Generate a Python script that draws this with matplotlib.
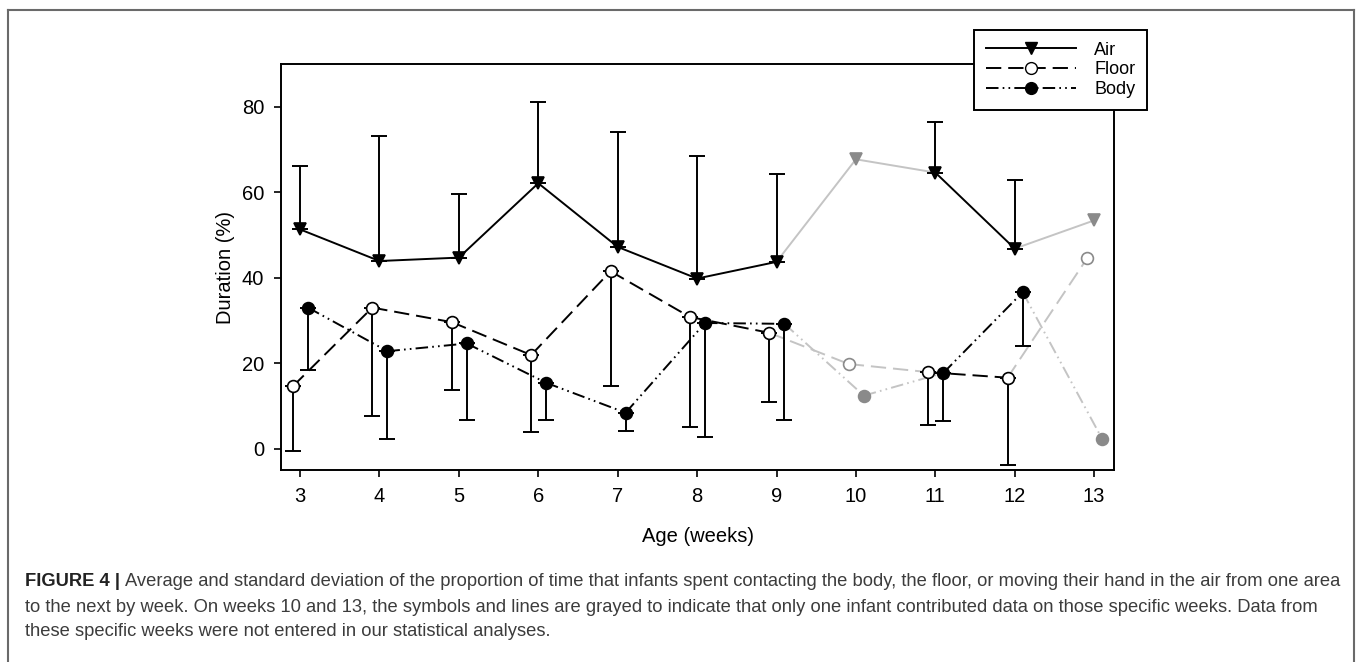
import matplotlib
matplotlib.use("Agg")
import matplotlib.pyplot as plt
from matplotlib.lines import Line2D

plt.rcParams['font.family'] = ['Liberation Sans', 'DejaVu Sans']
plt.rcParams['lines.scale_dashes'] = False

# data
weeks = [3, 4, 5, 6, 7, 8, 9, 10, 11, 12, 13]
gray_weeks = [10, 13]   # only one infant -> grayed out

air = [51.3, 43.9, 44.7, 62.1, 47.2, 39.8, 43.7, 67.7, 64.6, 46.8, 53.4]
air_upper = [66.1, 73.1, 59.6, 81.0, 74.2, 68.5, 64.3, None, 76.5, 62.8, None]

floor = [14.6, 33.0, 29.6, 21.9, 41.5, 30.8, 27.1, 19.8, 17.9, 16.6, 44.5]
floor_lower = [-0.6, 7.7, 13.8, 3.8, 14.6, 5.0, 10.9, None, 5.6, -3.9, None]

body = [33.0, 22.8, 24.6, 15.4, 8.4, 29.4, 29.2, 12.4, 17.7, 36.6, 2.3]
body_lower = [18.5, 2.3, 6.8, 6.6, 4.1, 2.7, 6.8, None, 6.4, 24.0, None]

W, H = 1358, 662
fig = plt.figure(figsize=(W / 100, H / 100), dpi=100)
ax = fig.add_axes([281 / W, 1 - 470 / H, (1114 - 281) / W, (470 - 64) / H])

LINE_GRAY = "#c4c4c4"
MARK_GRAY = "#8a8a8a"
dash_floor = (0, (11, 5))
dash_body = (0, (9, 3, 1.2, 3, 1.2, 3))

series = [
    # values, errors, x offset, linestyle, marker, face, err direction
    (air, air_upper, 0.0, '-', 'v', 'black', +1),
    (floor, floor_lower, -0.09, dash_floor, 'o', 'white', -1),
    (body, body_lower, 0.1, dash_body, 'o', 'black', -1),
]

for vals, errs, dx, ls, mk, face, sign in series:
    xs = [w + dx for w in weeks]
    # connecting segments, gray when they touch a grayed week
    for i in range(len(xs) - 1):
        grayed = weeks[i] in gray_weeks or weeks[i + 1] in gray_weeks
        ax.plot(xs[i:i + 2], vals[i:i + 2], linestyle=ls, lw=1.4,
                color=LINE_GRAY if grayed else 'black', zorder=2)
    # error bars (one-sided)
    for x, v, e in zip(xs, vals, errs):
        if e is None:
            continue
        ax.errorbar([x], [v], yerr=[[0], [e - v]] if sign > 0 else [[v - e], [0]],
                    fmt='none', ecolor='black', elinewidth=1.4, capsize=5.5,
                    capthick=1.4, zorder=3)
    # markers
    for w, x, v in zip(weeks, xs, vals):
        grayed = w in gray_weeks
        ec = MARK_GRAY if grayed else 'black'
        fc = face if face == 'white' else ec
        ax.plot([x], [v], linestyle='none', marker=mk,
                markersize=9 if mk == 'v' else 8.5, markerfacecolor=fc,
                markeredgecolor=ec, markeredgewidth=1.2, zorder=4)

ax.set_xlim(2.76, 13.25)
ax.set_ylim(-5, 90)
ax.set_xticks(weeks)
ax.set_yticks([0, 20, 40, 60, 80])
ax.tick_params(direction='out', length=5, width=1.2, labelsize=14.5, pad=7)
for s in ax.spines.values():
    s.set_linewidth(1.4)
ax.set_xlabel("Age (weeks)", fontsize=14.5, labelpad=15)
ax.set_ylabel("Duration (%)", fontsize=14.5, labelpad=5)

handles = [
    Line2D([], [], color='black', lw=1.4, marker='v', markersize=9,
           markerfacecolor='black'),
    Line2D([], [], color='black', lw=1.4, linestyle=dash_floor, marker='o',
           markersize=8.5, markerfacecolor='white', markeredgecolor='black'),
    Line2D([], [], color='black', lw=1.4, linestyle=dash_body, marker='o',
           markersize=8.5, markerfacecolor='black'),
]
leg = fig.legend(handles, ["Air", "Floor", "Body"], loc='upper left',
                 bbox_to_anchor=(974 / W, 1 - 30 / H), fontsize=13,
                 handlelength=5.0, handletextpad=1.0, labelspacing=0.15,
                 borderpad=0.65, borderaxespad=0, fancybox=False,
                 framealpha=1, edgecolor='black', numpoints=1)
leg.get_frame().set_linewidth(1.4)

# outer border of the figure panel
bc = "#6a6a6a"
fig.add_artist(Line2D([8 / W, 8 / W], [0, 1 - 10 / H], color=bc, lw=1.5))
fig.add_artist(Line2D([8 / W, 1354 / W], [1 - 10 / H, 1 - 10 / H], color=bc, lw=1.5))
fig.add_artist(Line2D([1354 / W, 1354 / W], [0, 1 - 10 / H], color=bc, lw=1.5))

# caption
cap_lines = [
    "Average and standard deviation of the proportion of time that infants spent "
    "contacting the body, the floor, or moving their hand in the air from one area",
    "to the next by week. On weeks 10 and 13, the symbols and lines are grayed to "
    "indicate that only one infant contributed data on those specific weeks. Data from",
    "these specific weeks were not entered in our statistical analyses.",
]
ys = [582, 607, 632]
x0 = 25
fs = 12.0
head = fig.text(x0 / W, 1 - ys[0] / H, "FIGURE 4 |", fontsize=fs, weight='bold',
                color='#222222', va='center')
fig.canvas.draw()
r = fig.canvas.get_renderer()
hw = head.get_window_extent(r).width
first = fig.text((x0 + hw + 5) / W, 1 - ys[0] / H, cap_lines[0], fontsize=fs,
                 color='#3c3c3c', va='center')
tw = hw + 5 + first.get_window_extent(r).width
fs = fs * (1345 - x0) / tw
head.set_fontsize(fs)
first.set_fontsize(fs)
fig.canvas.draw()
hw = head.get_window_extent(r).width
first.set_x((x0 + hw + 5) / W)
for txt, y in zip(cap_lines[1:], ys[1:]):
    fig.text(x0 / W, 1 - y / H, txt, fontsize=fs, color='#3c3c3c', va='center')

fig.savefig("out.png", dpi=100)
